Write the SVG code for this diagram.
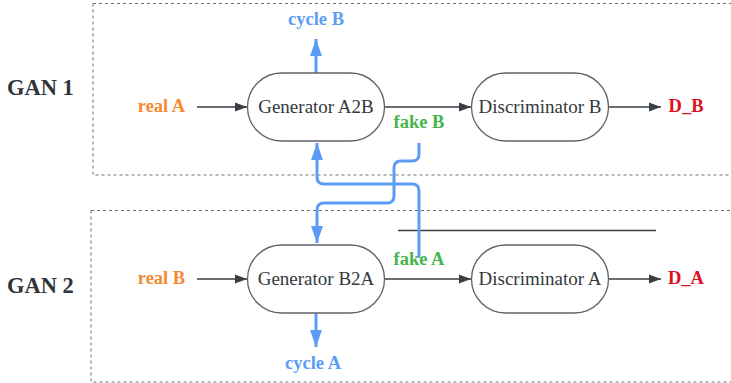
<svg xmlns="http://www.w3.org/2000/svg" width="731" height="383" viewBox="0 0 731 383">
  <style>
    .frame { fill: none; stroke: #6b6f73; stroke-width: 1; stroke-dasharray: 3 3; }
    .node { fill: #ffffff; stroke: #5f6266; stroke-width: 1.3; }
    .ntext { font-family: "Liberation Serif", "Times New Roman", serif; font-size: 19px; fill: #33383d; text-anchor: middle; }
    .gan { font-family: "Liberation Serif", "Times New Roman", serif; font-size: 22.5px; font-weight: bold; fill: #2f353b; }
    .lbl { font-family: "Liberation Serif", "Times New Roman", serif; font-size: 18.5px; font-weight: bold; text-anchor: middle; }
    .real { fill: #f5892e; }
    .fake { fill: #45b54a; }
    .cyc { fill: #5c9cf5; }
    .dout { fill: #e0101c; }
    .flow { fill: none; stroke: #3a3f44; stroke-width: 1.3; }
    .loop { fill: none; stroke: #5c9cf5; stroke-width: 3; }
  </style>
  <defs>
    <marker id="dark" markerUnits="userSpaceOnUse" markerWidth="14" markerHeight="12" viewBox="0 0 14 12" refX="13" refY="6" orient="auto">
      <path d="M1,1.5 L13,6 L1,10.5 Z" fill="#3a3f44"/>
    </marker>
    <marker id="blue" markerUnits="userSpaceOnUse" markerWidth="18" markerHeight="14" viewBox="0 0 18 14" refX="17" refY="7" orient="auto">
      <path d="M0,1 L17,7 L0,13 Z" fill="#5c9cf5"/>
    </marker>
  </defs>

  <!-- group frames -->
  <rect class="frame" x="93" y="3.5" width="700" height="171.5"/>
  <rect class="frame" x="91" y="210.5" width="700" height="171.5"/>

  <text class="gan" x="7" y="95">GAN 1</text>
  <text class="gan" x="7" y="293">GAN 2</text>

  <!-- connectors -->
  <g id="connectors">
    <line class="flow" x1="197" y1="107" x2="247" y2="107" marker-end="url(#dark)"/>
    <line class="flow" x1="385" y1="107" x2="471" y2="107" marker-end="url(#dark)"/>
    <line class="flow" x1="609" y1="107" x2="661" y2="107" marker-end="url(#dark)"/>
    <line class="flow" x1="197" y1="279" x2="247" y2="279" marker-end="url(#dark)"/>
    <line class="flow" x1="385" y1="279" x2="471" y2="279" marker-end="url(#dark)"/>
    <line class="flow" x1="609" y1="279" x2="661" y2="279" marker-end="url(#dark)"/>
    <line class="flow" x1="398" y1="230.5" x2="656" y2="230.5"/>

    <line class="loop" x1="316" y1="73" x2="316" y2="39" marker-end="url(#blue)"/>
    <line class="loop" x1="316" y1="313" x2="316" y2="347" marker-end="url(#blue)"/>
    <!-- fake A back into Generator A2B -->
    <path class="loop" d="M419,258 V191 Q419,184 412,184 H324 Q317,184 317,177 V143" marker-end="url(#blue)"/>
    <!-- fake B back into Generator B2A -->
    <path class="loop" d="M419,143 V154 Q419,161 412,161 H401 Q394,161 394,168 V196 Q394,203 387,203 H324 Q317,203 317,210 V243" marker-end="url(#blue)"/>
  </g>

  <g id="realA"><text class="lbl real" x="161.5" y="112">real A</text></g>
  <g id="realB"><text class="lbl real" x="161.5" y="284">real B</text></g>

  <g id="genA2B">
    <rect class="node" x="247.5" y="73" width="137" height="68" rx="34"/>
    <text class="ntext" x="316" y="113">Generator A2B</text>
  </g>
  <g id="discB">
    <rect class="node" x="471.5" y="73" width="137" height="68" rx="34"/>
    <text class="ntext" x="540" y="113">Discriminator B</text>
  </g>
  <g id="genB2A">
    <rect class="node" x="247.5" y="245" width="137" height="68" rx="34"/>
    <text class="ntext" x="316" y="285">Generator B2A</text>
  </g>
  <g id="discA">
    <rect class="node" x="471.5" y="245" width="137" height="68" rx="34"/>
    <text class="ntext" x="540" y="285">Discriminator A</text>
  </g>

  <g id="cycleB"><text class="lbl cyc" x="316" y="25">cycle B</text></g>
  <g id="cycleA"><text class="lbl cyc" x="313" y="369">cycle A</text></g>
  <g id="fakeB"><text class="lbl fake" x="419" y="128">fake B</text></g>
  <g id="fakeA"><text class="lbl fake" x="419" y="265">fake A</text></g>
  <g id="DB"><text class="lbl dout" x="686" y="112">D_B</text></g>
  <g id="DA"><text class="lbl dout" x="686" y="284">D_A</text></g>
</svg>
